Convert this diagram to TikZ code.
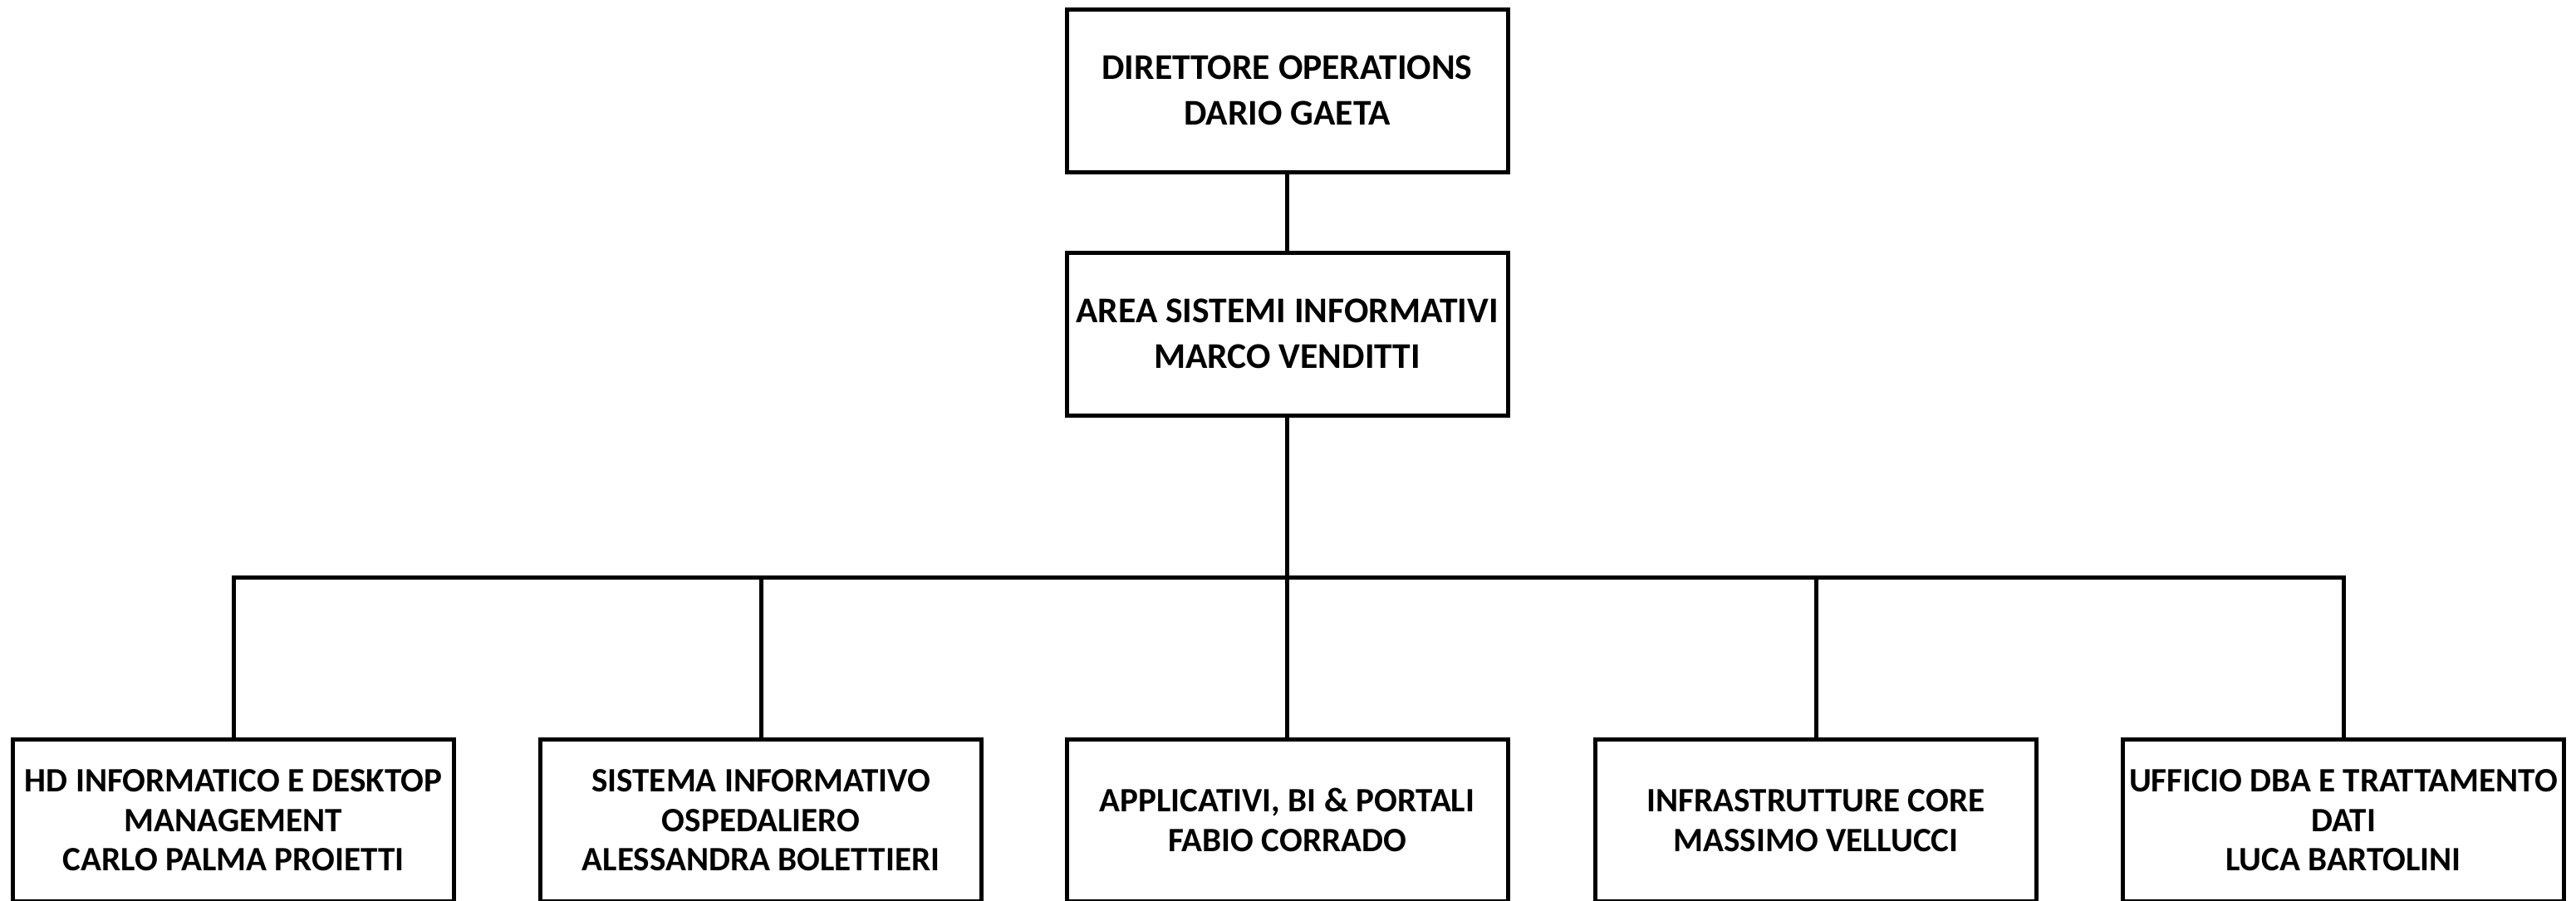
\documentclass[tikz,border=0pt]{standalone}
\usepackage{fontspec}
\setmainfont{Carlito}
\begin{document}
\begin{tikzpicture}[x=1cm,y=1cm,
  line width=0.05cm,
  box/.style={draw, line width=0.05cm, rectangle, minimum width=5.31cm, align=center, inner sep=0pt},
  topbox/.style={box, minimum height=1.96cm, font=\fontsize{12.4}{15.6}\selectfont\bfseries},
  subbox/.style={box, minimum height=1.945cm, font=\fontsize{11.7}{13.6}\selectfont\bfseries},
  conn/.style={draw, line width=0.05cm}]
\useasboundingbox (0,0) rectangle (31.01,-10.84);
\node[topbox] (dir) at (15.495,-1.09) {DIRETTORE OPERATIONS\\DARIO GAETA};
\node[topbox] (area) at (15.495,-4.02) {AREA SISTEMI INFORMATIVI\\MARCO VENDITTI};
\node[subbox] (b1) at (2.81,-9.8775) {HD INFORMATICO E DESKTOP\\MANAGEMENT\\CARLO PALMA PROIETTI};
\node[subbox] (b2) at (9.16,-9.8775) {SISTEMA INFORMATIVO\\OSPEDALIERO\\ALESSANDRA BOLETTIERI};
\node[subbox] (b3) at (15.495,-9.8775) {APPLICATIVI, BI \& PORTALI\\FABIO CORRADO};
\node[subbox] (b4) at (21.86,-9.8775) {INFRASTRUTTURE CORE\\MASSIMO VELLUCCI};
\node[subbox] (b5) at (28.21,-9.8775) {UFFICIO DBA E TRATTAMENTO\\DATI\\LUCA BARTOLINI};
\coordinate (bus) at (15.495,-6.955);
\draw[conn] (dir.south) -- (area.north);
\draw[conn] (area.south) -- (bus);
\foreach \b in {b1,b2,b3,b4,b5}{
  \draw[conn] (bus) -| (\b.north);
}
\end{tikzpicture}
\end{document}
